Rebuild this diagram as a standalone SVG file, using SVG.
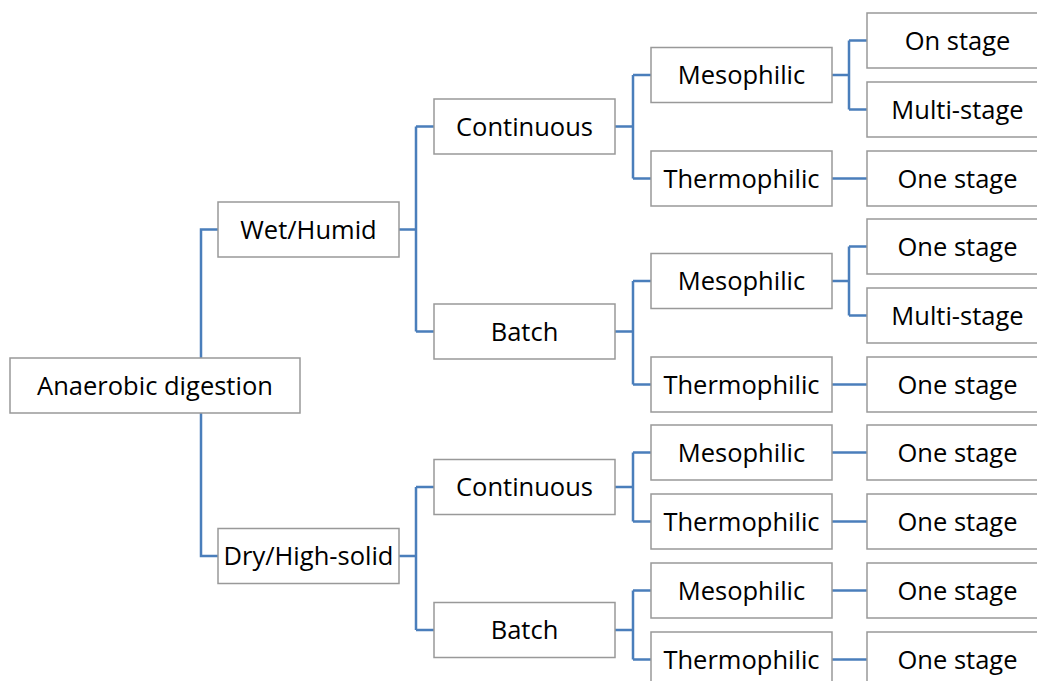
<svg xmlns="http://www.w3.org/2000/svg" width="1037" height="681" viewBox="0 0 1037 681">
  <style>
    .box { fill: #ffffff; stroke: #999999; stroke-width: 1.5; }
    .lbl { font-family: "Open Sans", "Liberation Sans", sans-serif; font-size: 25.5px; fill: #000000; text-anchor: middle; }
    .link { fill: none; stroke: #4a7ebb; stroke-width: 2.5; }
  </style>
  <rect width="1037" height="681" fill="#ffffff"/>

  <!-- connectors -->
  <g id="connectors" class="link">
    <!-- root to level 1 -->
    <path d="M201,358 V229.5 H218"/>
    <path d="M201,413 V556 H218"/>
    <!-- level 1 to level 2 -->
    <path d="M399,229.5 H416 M416,126.5 V331.5 M416,126.5 H434 M416,331.5 H434"/>
    <path d="M399,556 H416 M416,487 V630 M416,487 H434 M416,630 H434"/>
    <!-- level 2 to level 3 -->
    <path d="M615,126.5 H633 M633,75 V178.5 M633,75 H651 M633,178.5 H651"/>
    <path d="M615,331.5 H633 M633,281 V384.5 M633,281 H651 M633,384.5 H651"/>
    <path d="M615,487 H633 M633,452.5 V521.5 M633,452.5 H651 M633,521.5 H651"/>
    <path d="M615,630 H633 M633,590.5 V659.5 M633,590.5 H651 M633,659.5 H651"/>
    <!-- level 3 to level 4 -->
    <path d="M832,75 H849 M849,40.5 V109.5 M849,40.5 H867 M849,109.5 H867"/>
    <path d="M832,178.5 H867"/>
    <path d="M832,281 H849 M849,246.5 V315.5 M849,246.5 H867 M849,315.5 H867"/>
    <path d="M832,384.5 H867"/>
    <path d="M832,452.5 H867"/>
    <path d="M832,521.5 H867"/>
    <path d="M832,590.5 H867"/>
    <path d="M832,659.5 H867"/>
  </g>

  <!-- root -->
  <g id="n-root"><rect class="box" x="10" y="358" width="290" height="55"/><text class="lbl" x="155" y="394.5">Anaerobic digestion</text></g>

  <!-- level 1 -->
  <g id="n-wet"><rect class="box" x="218" y="202" width="181" height="55"/><text class="lbl" x="308.5" y="238.5">Wet/Humid</text></g>
  <g id="n-dry"><rect class="box" x="218" y="528.5" width="181" height="55"/><text class="lbl" x="308.5" y="565">Dry/High-solid</text></g>

  <!-- level 2 -->
  <g id="n-wet-cont"><rect class="box" x="434" y="99" width="181" height="55"/><text class="lbl" x="524.5" y="135.5">Continuous</text></g>
  <g id="n-wet-batch"><rect class="box" x="434" y="304" width="181" height="55"/><text class="lbl" x="524.5" y="340.5">Batch</text></g>
  <g id="n-dry-cont"><rect class="box" x="434" y="459.5" width="181" height="55"/><text class="lbl" x="524.5" y="496">Continuous</text></g>
  <g id="n-dry-batch"><rect class="box" x="434" y="602.5" width="181" height="55"/><text class="lbl" x="524.5" y="639">Batch</text></g>

  <!-- level 3 -->
  <g id="n-wc-meso"><rect class="box" x="651" y="47.5" width="181" height="55"/><text class="lbl" x="741.5" y="84">Mesophilic</text></g>
  <g id="n-wc-thermo"><rect class="box" x="651" y="151" width="181" height="55"/><text class="lbl" x="741.5" y="187.5">Thermophilic</text></g>
  <g id="n-wb-meso"><rect class="box" x="651" y="253.5" width="181" height="55"/><text class="lbl" x="741.5" y="290">Mesophilic</text></g>
  <g id="n-wb-thermo"><rect class="box" x="651" y="357" width="181" height="55"/><text class="lbl" x="741.5" y="393.5">Thermophilic</text></g>
  <g id="n-dc-meso"><rect class="box" x="651" y="425" width="181" height="55"/><text class="lbl" x="741.5" y="461.5">Mesophilic</text></g>
  <g id="n-dc-thermo"><rect class="box" x="651" y="494" width="181" height="55"/><text class="lbl" x="741.5" y="530.5">Thermophilic</text></g>
  <g id="n-db-meso"><rect class="box" x="651" y="563" width="181" height="55"/><text class="lbl" x="741.5" y="599.5">Mesophilic</text></g>
  <g id="n-db-thermo"><rect class="box" x="651" y="632" width="181" height="55"/><text class="lbl" x="741.5" y="668.5">Thermophilic</text></g>

  <!-- level 4 -->
  <g id="n-s1"><rect class="box" x="867" y="13" width="181" height="55"/><text class="lbl" x="957.5" y="49.5">On stage</text></g>
  <g id="n-s2"><rect class="box" x="867" y="82" width="181" height="55"/><text class="lbl" x="957.5" y="118.5">Multi-stage</text></g>
  <g id="n-s3"><rect class="box" x="867" y="151" width="181" height="55"/><text class="lbl" x="957.5" y="187.5">One stage</text></g>
  <g id="n-s4"><rect class="box" x="867" y="219" width="181" height="55"/><text class="lbl" x="957.5" y="255.5">One stage</text></g>
  <g id="n-s5"><rect class="box" x="867" y="288" width="181" height="55"/><text class="lbl" x="957.5" y="324.5">Multi-stage</text></g>
  <g id="n-s6"><rect class="box" x="867" y="357" width="181" height="55"/><text class="lbl" x="957.5" y="393.5">One stage</text></g>
  <g id="n-s7"><rect class="box" x="867" y="425" width="181" height="55"/><text class="lbl" x="957.5" y="461.5">One stage</text></g>
  <g id="n-s8"><rect class="box" x="867" y="494" width="181" height="55"/><text class="lbl" x="957.5" y="530.5">One stage</text></g>
  <g id="n-s9"><rect class="box" x="867" y="563" width="181" height="55"/><text class="lbl" x="957.5" y="599.5">One stage</text></g>
  <g id="n-s10"><rect class="box" x="867" y="632" width="181" height="55"/><text class="lbl" x="957.5" y="668.5">One stage</text></g>
</svg>
